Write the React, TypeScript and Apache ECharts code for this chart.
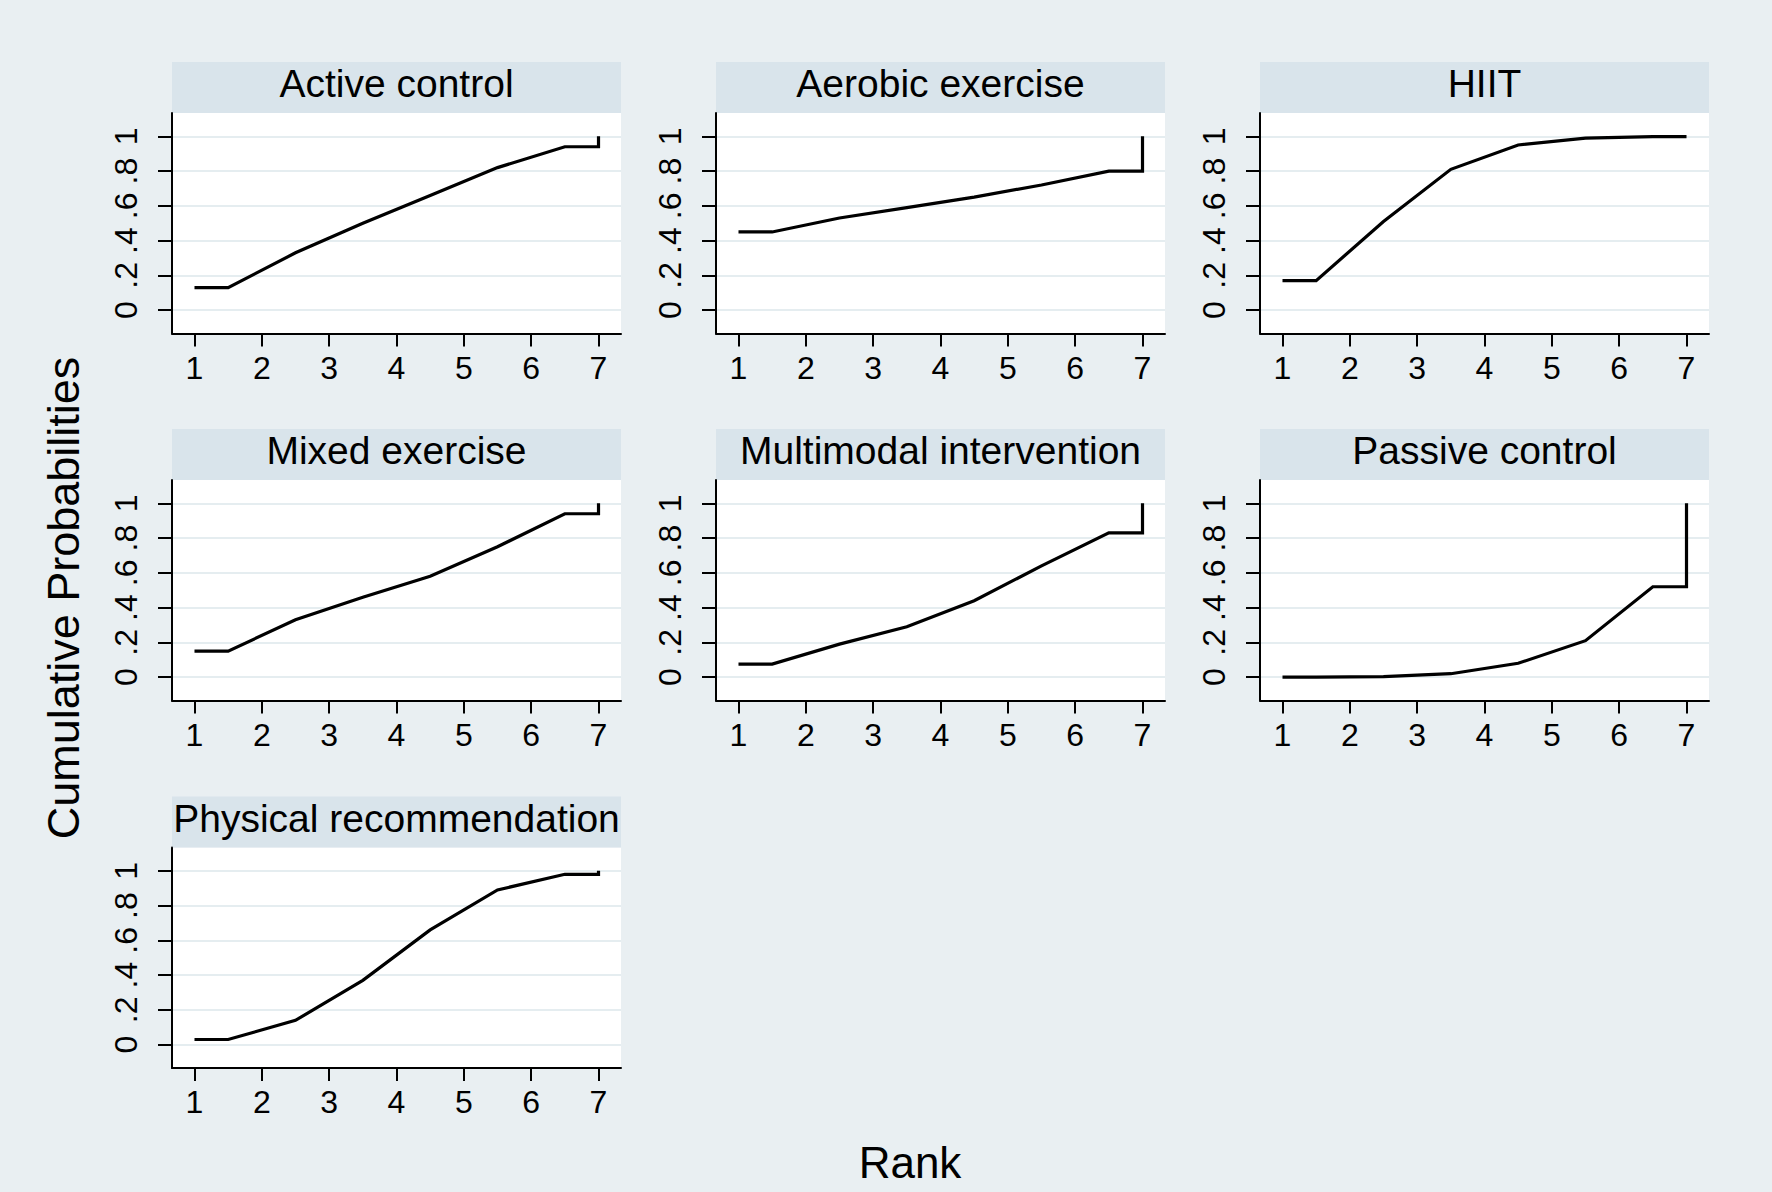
import React, { useEffect, useRef } from "react";
import * as echarts from "echarts";

// ---- data ----
const ranks = [1, 2, 3, 4, 5, 6, 7];
const treatments = [
  "Active control",
  "Aerobic exercise",
  "HIIT",
  "Mixed exercise",
  "Multimodal intervention",
  "Passive control",
  "Physical recommendation",
];
// cumulative probability of being ranked at or above each rank (1..7)
const activeControl = [0.13, 0.33, 0.5, 0.66, 0.82, 0.94, 1];
const aerobicExercise = [0.45, 0.53, 0.59, 0.65, 0.72, 0.8, 1];
const hiit = [0.17, 0.51, 0.81, 0.95, 0.99, 0.998, 1];
const mixedExercise = [0.15, 0.33, 0.46, 0.58, 0.75, 0.94, 1];
const multimodalIntervention = [0.075, 0.19, 0.29, 0.44, 0.64, 0.83, 1];
const passiveControl = [0, 0.003, 0.02, 0.08, 0.21, 0.52, 1];
const physicalRecommendation = [0.03, 0.14, 0.37, 0.66, 0.89, 0.98, 1];
const yTicks = [0, 0.2, 0.4, 0.6, 0.8, 1];
const yTickLabels = ["0", ".2", ".4", ".6", ".8", "1"];
const xAxisTitle = "Rank";
const yAxisTitle = "Cumulative Probabilities";

const seriesValues = [
  activeControl,
  aerobicExercise,
  hiit,
  mixedExercise,
  multimodalIntervention,
  passiveControl,
  physicalRecommendation,
];

// Stata-style cumulative ranking curve: flat to the first half rank,
// joined at half ranks, flat into the last rank, then the final jump.
function curvePoints(cum: number[]): number[][] {
  const n = ranks.length;
  const pts: number[][] = [[ranks[0], cum[0]]];
  for (let i = 0; i < n - 1; i++) {
    pts.push([(ranks[i] + ranks[i + 1]) / 2, cum[i]]);
  }
  pts.push([ranks[n - 1], cum[n - 2]]);
  pts.push([ranks[n - 1], cum[n - 1]]);
  return pts;
}

// ---- layout ----
const FONT = '"Liberation Sans", Arial, Helvetica, sans-serif';
const COL_LEFT = [172, 716, 1260];
const ROW_TOP = [113, 480, 847.5];
const PW = 449;
const PH = 220.5;
const BAND = 51;

export default function App() {
  const ref = useRef<HTMLDivElement>(null);
  useEffect(() => {
    if (!ref.current) return;
    const chart = echarts.init(ref.current, undefined, { renderer: "svg" });
    const grids: any[] = [];
    const xAxes: any[] = [];
    const yAxes: any[] = [];
    const series: any[] = [];
    const graphics: any[] = [];
    treatments.forEach((name, i) => {
      const left = COL_LEFT[i % 3];
      const top = ROW_TOP[Math.floor(i / 3)];
      grids.push({
        left,
        top,
        width: PW,
        height: PH,
        show: true,
        backgroundColor: "#ffffff",
        borderWidth: 0,
        containLabel: false,
      });
      xAxes.push({
        type: "value",
        gridIndex: i,
        min: 0.666,
        max: 7.334,
        axisLine: { show: true, onZero: false, lineStyle: { color: "#000", width: 2 } },
        axisTick: { show: true, length: 13, lineStyle: { color: "#000", width: 2 }, customValues: ranks },
        axisLabel: {
          customValues: ranks,
          margin: 18,
          fontSize: 32,
          color: "#000",
          fontFamily: FONT,
        },
        splitLine: { show: false },
      });
      yAxes.push({
        type: "value",
        gridIndex: i,
        min: -0.134,
        max: 1.134,
        axisLine: { show: true, onZero: false, lineStyle: { color: "#000", width: 2 } },
        axisTick: { show: true, length: 14, lineStyle: { color: "#000", width: 2 }, customValues: yTicks },
        axisLabel: {
          customValues: yTicks,
          rotate: 90,
          margin: 30,
          fontSize: 32,
          color: "#000",
          fontFamily: FONT,
          formatter: (v: number) => {
            const k = yTicks.findIndex((t) => Math.abs(t - v) < 1e-6);
            return k >= 0 ? yTickLabels[k] : "";
          },
        },
        splitLine: { show: true, lineStyle: { color: "#e5edf0", width: 2 } },
      });
      series.push({
        type: "line",
        xAxisIndex: i,
        yAxisIndex: i,
        data: curvePoints(seriesValues[i]),
        symbol: "none",
        showSymbol: false,
        silent: true,
        lineStyle: { color: "#000", width: 3.2, join: "miter" },
      });
      graphics.push({
        type: "rect",
        shape: { x: left, y: top - BAND, width: PW, height: BAND },
        style: { fill: "#d9e4eb" },
        silent: true,
      });
      graphics.push({
        type: "text",
        x: left + PW / 2,
        y: top - BAND / 2 - 4,
        style: {
          text: name,
          font: `39px ${FONT}`,
          fill: "#000",
          align: "center",
          verticalAlign: "middle",
          textAlign: "center",
          textVerticalAlign: "middle",
        },
        silent: true,
      });
    });
    graphics.push({
      type: "text",
      x: 910,
      y: 1162,
      style: {
        text: xAxisTitle,
        font: `44px ${FONT}`,
        fill: "#000",
        align: "center",
        verticalAlign: "middle",
        textAlign: "center",
        textVerticalAlign: "middle",
      },
      silent: true,
    });
    graphics.push({
      type: "text",
      x: 63,
      y: 598,
      rotation: Math.PI / 2,
      style: {
        text: yAxisTitle,
        font: `45px ${FONT}`,
        fill: "#000",
        align: "center",
        verticalAlign: "middle",
        textAlign: "center",
        textVerticalAlign: "middle",
      },
      silent: true,
    });
    chart.setOption({
      animation: false,
      backgroundColor: "#e9eff2",
      grid: grids,
      xAxis: xAxes,
      yAxis: yAxes,
      series,
      graphic: graphics,
    });
    return () => chart.dispose();
  }, []);
  return (
    <div
      ref={ref}
      style={{ position: "fixed", left: 0, top: 0, width: 1772, height: 1192 }}
    />
  );
}
